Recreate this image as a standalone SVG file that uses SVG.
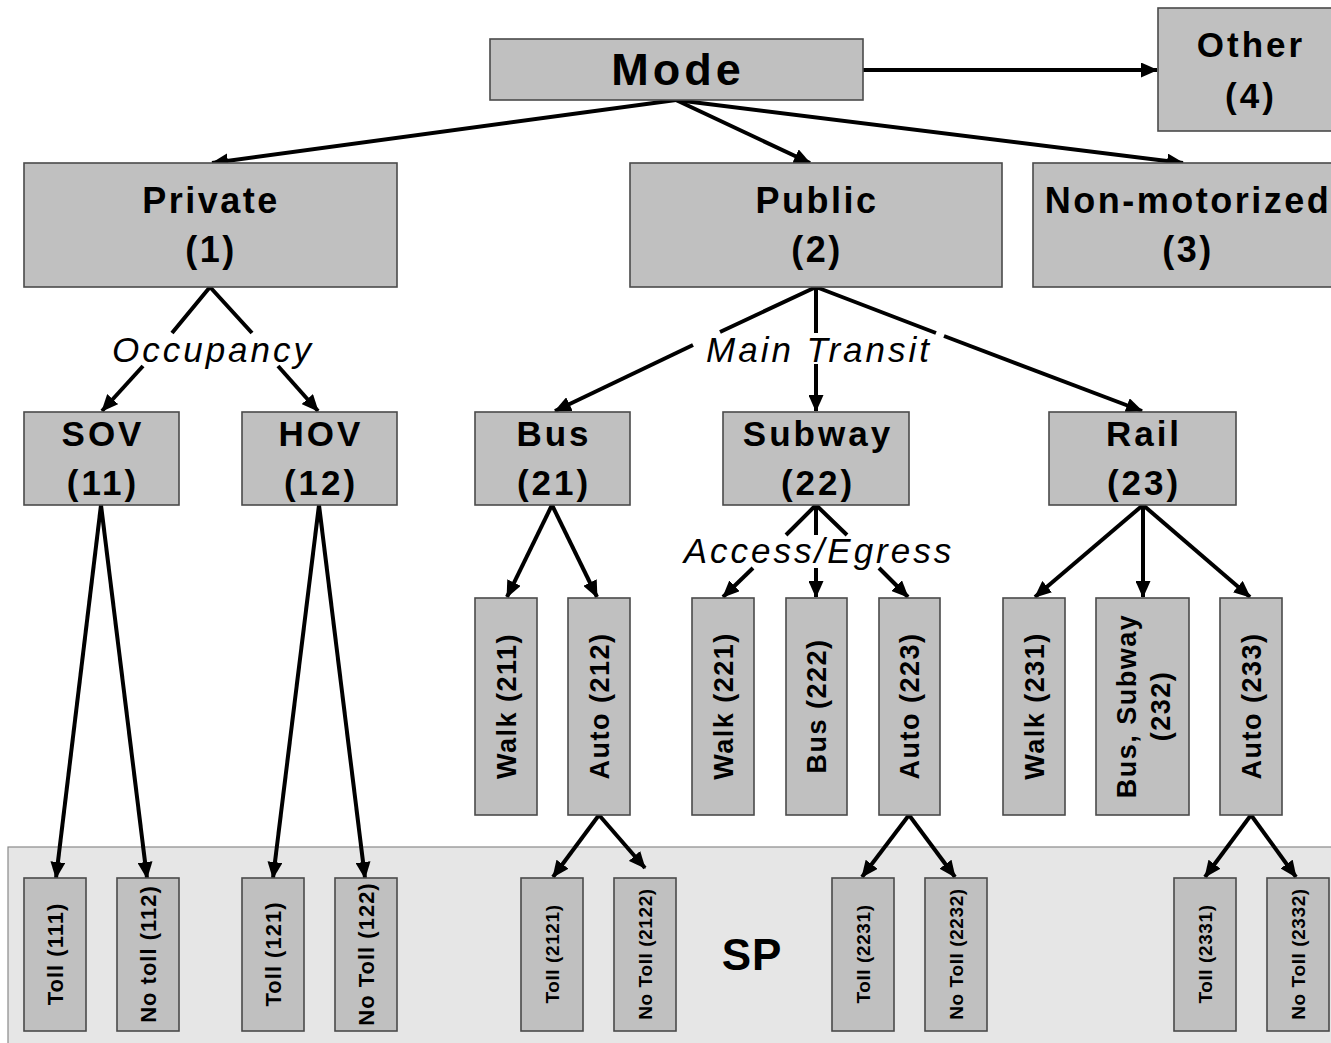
<svg xmlns="http://www.w3.org/2000/svg" width="1331" height="1043" viewBox="0 0 1331 1043">
<style>
.box{fill:#c0c0c0;stroke:#4a4a4a;stroke-width:1.6}
.sp{fill:#e6e6e6;stroke:#8a8a8a;stroke-width:1.2}
.t{font-family:"Liberation Sans",Arial,sans-serif;font-weight:bold;fill:#000;text-anchor:middle}
.big{font-size:45px;letter-spacing:4px}
.l1{font-size:36px;letter-spacing:2.5px}
.l2{font-size:35px;letter-spacing:3px}
.lbl{font-family:"Liberation Sans",Arial,sans-serif;font-style:italic;font-size:35px;letter-spacing:3px;fill:#000;text-anchor:middle}
.v{font-size:27px;letter-spacing:1.5px}
.s1{font-size:22px;letter-spacing:1px}
.s2{font-size:19px;letter-spacing:0.6px}
.conn{stroke:#000;stroke-width:4;fill:none;marker-end:url(#ah)}
.plain{stroke:#000;stroke-width:4;fill:none}
</style>
<defs>
<marker id="ah" viewBox="0 0 17 15" refX="16" refY="7.5" markerWidth="17" markerHeight="15" markerUnits="userSpaceOnUse" orient="auto"><path d="M0,0 L17,7.5 L0,15 z" fill="#000"/></marker>
</defs>
<rect width="1331" height="1043" fill="#fff"/>
<g id="sp-region">
<rect class="sp" x="8" y="847" width="1340" height="210"/>
<text class="t" x="752" y="970" style="font-size:44px;letter-spacing:1px">SP</text>
</g>
<g id="connectors">
<path class="conn" d="M863,70 L1157,70"/>
<path class="conn" d="M676,100 L212,163"/>
<path class="conn" d="M676,100 L810,163"/>
<path class="conn" d="M676,100 L1183,163"/>
<path class="plain" d="M210,287 L172,333 M210,287 L252,333"/>
<path class="conn" d="M143,366 L102,411"/>
<path class="conn" d="M278,366 L318,411"/>
<path class="plain" d="M816,287 L720,332 M816,287 L816,333 M816,287 L936,333"/>
<path class="conn" d="M693,345 L555,411"/>
<path class="conn" d="M816,364 L816,411"/>
<path class="conn" d="M944,336 L1142,411"/>
<path class="conn" d="M101,505 L56,878"/>
<path class="conn" d="M101,505 L147,878"/>
<path class="conn" d="M319,505 L273,878"/>
<path class="conn" d="M319,505 L365,878"/>
<path class="conn" d="M552,505 L507,597"/>
<path class="conn" d="M552,505 L597,597"/>
<path class="plain" d="M816,505 L786,535 M816,505 L816,535 M816,505 L847,535"/>
<path class="conn" d="M753,568 L723,597"/>
<path class="conn" d="M816,568 L816,597"/>
<path class="conn" d="M879,568 L908,597"/>
<path class="conn" d="M1143,505 L1035,597"/>
<path class="conn" d="M1143,505 L1143,597"/>
<path class="conn" d="M1143,505 L1250,597"/>
<path class="conn" d="M599,815 L553,877"/>
<path class="conn" d="M599,815 L645,868"/>
<path class="conn" d="M909,815 L862,877"/>
<path class="conn" d="M909,815 L955,877"/>
<path class="conn" d="M1251,815 L1205,877"/>
<path class="conn" d="M1251,815 L1296,877"/>
<text class="lbl" x="213" y="362">Occupancy</text>
<text class="lbl" x="819" y="362">Main Transit</text>
<text class="lbl" x="819" y="563">Access/Egress</text>
</g>
<g id="mode"><rect class="box" x="490" y="39" width="373" height="61"/><text class="t big" x="678" y="85">Mode</text></g>
<g id="other"><rect class="box" x="1158" y="8" width="190" height="123"/><text class="t l2" x="1251" y="57">Other</text><text class="t l2" x="1251" y="108">(4)</text></g>
<g id="private"><rect class="box" x="24" y="163" width="373" height="124"/><text class="t l1" x="211" y="213">Private</text><text class="t l1" x="211" y="262">(1)</text></g>
<g id="public"><rect class="box" x="630" y="163" width="372" height="124"/><text class="t l1" x="817" y="213">Public</text><text class="t l1" x="817" y="262">(2)</text></g>
<g id="nonmotorized"><rect class="box" x="1033" y="163" width="320" height="124"/><text class="t l1" x="1188" y="213">Non-motorized</text><text class="t l1" x="1188" y="262">(3)</text></g>
<g id="sov"><rect class="box" x="24" y="412" width="155" height="93"/><text class="t l2" x="103" y="446">SOV</text><text class="t l2" x="103" y="495">(11)</text></g>
<g id="hov"><rect class="box" x="242" y="412" width="155" height="93"/><text class="t l2" x="321" y="446">HOV</text><text class="t l2" x="321" y="495">(12)</text></g>
<g id="bus"><rect class="box" x="475" y="412" width="155" height="93"/><text class="t l2" x="554" y="446">Bus</text><text class="t l2" x="554" y="495">(21)</text></g>
<g id="subway"><rect class="box" x="723" y="412" width="186" height="93"/><text class="t l2" x="818" y="446">Subway</text><text class="t l2" x="818" y="495">(22)</text></g>
<g id="rail"><rect class="box" x="1049" y="412" width="187" height="93"/><text class="t l2" x="1144" y="446">Rail</text><text class="t l2" x="1144" y="495">(23)</text></g>
<g id="walk211"><rect class="box" x="475" y="598" width="62" height="217"/><text class="t v" transform="translate(516,706) rotate(-90)">Walk (211)</text></g>
<g id="auto212"><rect class="box" x="568" y="598" width="62" height="217"/><text class="t v" transform="translate(609,706) rotate(-90)">Auto (212)</text></g>
<g id="walk221"><rect class="box" x="692" y="598" width="62" height="217"/><text class="t v" transform="translate(733,706) rotate(-90)">Walk (221)</text></g>
<g id="bus222"><rect class="box" x="786" y="598" width="61" height="217"/><text class="t v" transform="translate(826,706) rotate(-90)">Bus (222)</text></g>
<g id="auto223"><rect class="box" x="879" y="598" width="61" height="217"/><text class="t v" transform="translate(919,706) rotate(-90)">Auto (223)</text></g>
<g id="walk231"><rect class="box" x="1003" y="598" width="62" height="217"/><text class="t v" transform="translate(1044,706) rotate(-90)">Walk (231)</text></g>
<g id="bussubway232"><rect class="box" x="1096" y="598" width="93" height="217"/><text class="t v" transform="translate(1136,706) rotate(-90)">Bus, Subway</text><text class="t v" transform="translate(1170,706) rotate(-90)">(232)</text></g>
<g id="auto233"><rect class="box" x="1220" y="598" width="62" height="217"/><text class="t v" transform="translate(1261,706) rotate(-90)">Auto (233)</text></g>
<g id="toll111"><rect class="box" x="24" y="878" width="62" height="153"/><text class="t s1" transform="translate(63,954) rotate(-90)">Toll (111)</text></g>
<g id="notoll112"><rect class="box" x="117" y="878" width="62" height="153"/><text class="t s1" transform="translate(156,954) rotate(-90)">No toll (112)</text></g>
<g id="toll121"><rect class="box" x="242" y="878" width="62" height="153"/><text class="t s1" transform="translate(281,954) rotate(-90)">Toll (121)</text></g>
<g id="notoll122"><rect class="box" x="335" y="878" width="62" height="153"/><text class="t s1" transform="translate(374,954) rotate(-90)">No Toll (122)</text></g>
<g id="toll2121"><rect class="box" x="521" y="878" width="62" height="153"/><text class="t s2" transform="translate(559,954) rotate(-90)">Toll (2121)</text></g>
<g id="notoll2122"><rect class="box" x="614" y="878" width="62" height="153"/><text class="t s2" transform="translate(652,954) rotate(-90)">No Toll (2122)</text></g>
<g id="toll2231"><rect class="box" x="832" y="878" width="62" height="153"/><text class="t s2" transform="translate(870,954) rotate(-90)">Toll (2231)</text></g>
<g id="notoll2232"><rect class="box" x="925" y="878" width="62" height="153"/><text class="t s2" transform="translate(963,954) rotate(-90)">No Toll (2232)</text></g>
<g id="toll2331"><rect class="box" x="1174" y="878" width="62" height="153"/><text class="t s2" transform="translate(1212,954) rotate(-90)">Toll (2331)</text></g>
<g id="notoll2332"><rect class="box" x="1267" y="878" width="62" height="153"/><text class="t s2" transform="translate(1305,954) rotate(-90)">No Toll (2332)</text></g>
</svg>
